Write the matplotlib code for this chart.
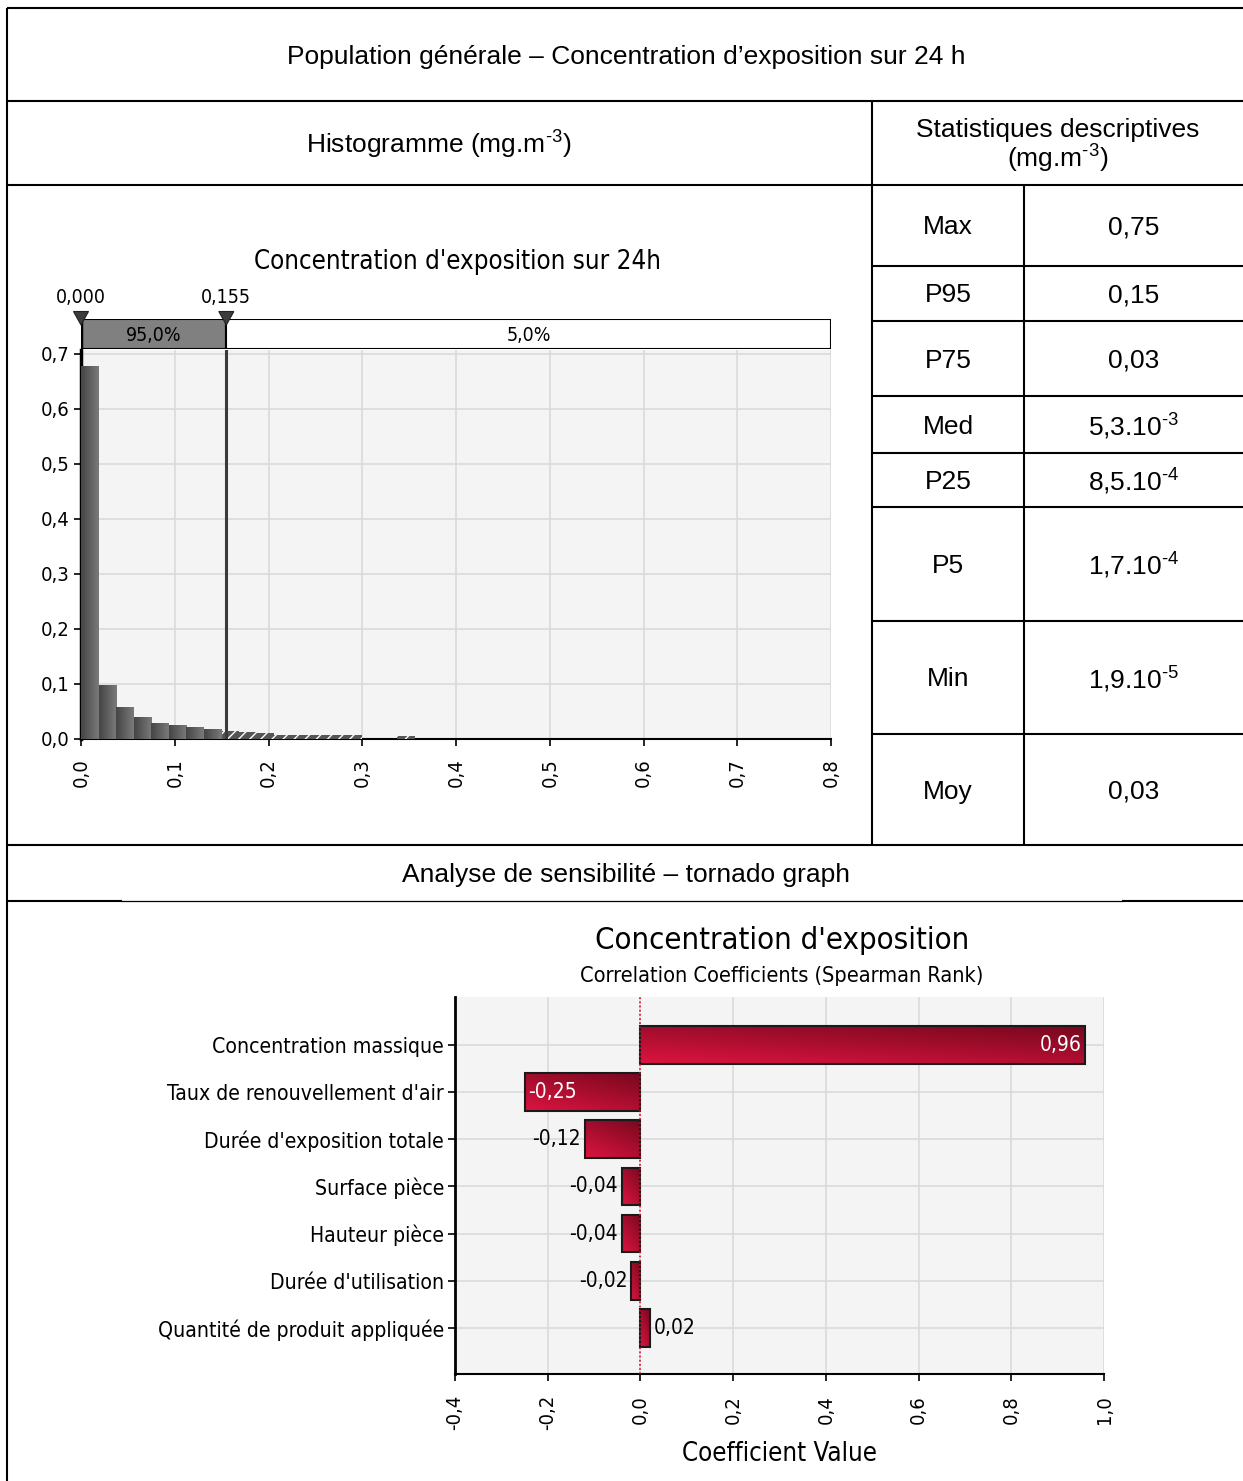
import numpy as np
import matplotlib
matplotlib.use("Agg")
import matplotlib.pyplot as plt
from matplotlib import font_manager
from matplotlib.patches import Rectangle, Polygon
from matplotlib.ticker import FuncFormatter, MultipleLocator
from matplotlib.colors import LinearSegmentedColormap

# ---- data ----
hist_edges_step = 0.01875
hist_probs = [0.678, 0.098, 0.058, 0.040, 0.029, 0.025, 0.021, 0.018,
              0.0145, 0.013, 0.010, 0.007, 0.007, 0.007, 0.007, 0.007,
              0.0, 0.0, 0.006]
p_low, p_high = 0.000, 0.155
pct_in, pct_out = "95,0%", "5,0%"

stat_names = ["Max", "P95", "P75", "Med", "P25", "P5", "Min", "Moy"]
stat_values = ["0,75", "0,15", "0,03", r"5,3.10$^{\text{-3}}$", r"8,5.10$^{\text{-4}}$",
               r"1,7.10$^{\text{-4}}$", r"1,9.10$^{\text{-5}}$", "0,03"]

inputs = ["Concentration massique", "Taux de renouvellement d'air",
          "Durée d'exposition totale", "Surface pièce", "Hauteur pièce",
          "Durée d'utilisation", "Quantité de produit appliquée"]
coefs = [0.96, -0.25, -0.12, -0.04, -0.04, -0.02, 0.02]

# ---- fonts ----
plt.rcParams["mathtext.fontset"] = "custom"
plt.rcParams["mathtext.rm"] = "Liberation Sans"
plt.rcParams["mathtext.it"] = "Liberation Sans:italic"
plt.rcParams["mathtext.bf"] = "Liberation Sans:bold"

ttf = font_manager.fontManager.ttflist
names = {f.name for f in ttf}
has_dv_cond = any(f.name == "DejaVu Sans" and "condensed" in str(f.stretch) for f in ttf)
if has_dv_cond:
    CH = dict(family="DejaVu Sans", stretch="condensed")
elif "Liberation Sans Narrow" in names:
    CH = dict(family="Liberation Sans Narrow")
else:
    CH = dict(family="DejaVu Sans")
TAB = dict(family="Liberation Sans")

W, H = 1243, 1481
fig = plt.figure(figsize=(W / 100, H / 100), dpi=100)


def box(x0, y0, x1, y1):
    return [x0 / W, 1 - y1 / H, (x1 - x0) / W, (y1 - y0) / H]


def comma(v, _=None, nd=1):
    return f"{v:.{nd}f}".replace(".", ",")


def grad_rect(ax, x, y, w, h, c1, c2, diag=False, z=3):
    cmap = LinearSegmentedColormap.from_list("g", [c1, c2])
    n = 64
    if diag:
        gx, gy = np.meshgrid(np.linspace(0, 1, n), np.linspace(0, 1, n))
        img = 0.4 * gx + 0.6 * gy
    else:
        img = np.tile(np.linspace(0, 1, n), (2, 1))
    rect = Rectangle((x, y), w, h, facecolor="none", edgecolor="none")
    ax.add_patch(rect)
    im = ax.imshow(img, cmap=cmap, extent=(x, x + w, y, y + h) if not diag else (x, x + w, y + h, y),
                   aspect="auto", origin="lower", zorder=z, interpolation="bilinear")
    im.set_clip_path(rect)
    return rect


def style_ticks(a):
    for t in a.get_xticklabels() + a.get_yticklabels():
        t.set_fontfamily(CH["family"])
        if "stretch" in CH:
            t.set_fontstretch(CH["stretch"])


# ---- table frame ----
bg = fig.add_axes([0, 0, 1, 1], zorder=-5)
bg.set_xlim(0, W)
bg.set_ylim(H, 0)
bg.axis("off")
lw = 1.5
k = dict(color="black", lw=lw, solid_capstyle="butt")
bg.plot([7, W], [8, 8], **k)
bg.plot([7, 7], [8, H], **k)
for yy in [101, 185, 845]:
    bg.plot([7, W], [yy, yy], **k)
bg.plot([7, 122], [901, 901], **k)
bg.plot([122, 1122], [901, 901], color="black", lw=0.9)
bg.plot([1122, W], [901, 901], **k)
bg.plot([872, 872], [101, 845], **k)
bg.plot([1024, 1024], [185, 845], **k)
row_lines = [185, 266, 321, 396, 453, 507, 621, 734, 845]
for yy in row_lines[1:-1]:
    bg.plot([872, W], [yy, yy], **k)

fs = 19
bg.text(626, 57, "Population générale – Concentration d’exposition sur 24 h",
        ha="center", va="center", fontsize=fs, **TAB)
bg.text(439, 145, r"Histogramme (mg.m$^{\text{-3}}$)", ha="center", va="center", fontsize=fs, **TAB)
bg.text(1058, 130, "Statistiques descriptives", ha="center", va="center", fontsize=fs, **TAB)
bg.text(1058, 159, r"(mg.m$^{\text{-3}}$)", ha="center", va="center", fontsize=fs, **TAB)
bg.text(626, 875, "Analyse de sensibilité – tornado graph", ha="center", va="center",
        fontsize=fs, **TAB)
for i, (nm, val) in enumerate(zip(stat_names, stat_values)):
    yc = (row_lines[i] + row_lines[i + 1]) / 2 + 2
    bg.text(948, yc, nm, ha="center", va="center", fontsize=fs, **TAB)
    bg.text(1134, yc, val, ha="center", va="center", fontsize=fs, **TAB)

# ---- histogram ----
ax = fig.add_axes(box(81, 350, 831, 739))
ax.set_facecolor("#f4f4f4")
ax.set_xlim(0, 0.8)
ax.set_ylim(0, 0.707)
ax.xaxis.set_major_locator(MultipleLocator(0.1))
ax.yaxis.set_major_locator(MultipleLocator(0.1))
ax.grid(True, color="#dadada", lw=1.2)
ax.set_axisbelow(True)
for i, p in enumerate(hist_probs):
    if p <= 0:
        continue
    x0 = i * hist_edges_step
    if x0 + hist_edges_step / 2 < p_high:
        grad_rect(ax, x0, 0, hist_edges_step, p, "#454545", "#7a7a7a")
    else:
        ax.add_patch(Rectangle((x0, 0), hist_edges_step, p, facecolor="#555555",
                               edgecolor="white", hatch="///", lw=0, zorder=3))
ax.axvline(p_high, color="#3a3a3a", lw=2.2, zorder=5)
for s in ["top", "right"]:
    ax.spines[s].set_visible(False)
ax.spines["left"].set_linewidth(2.5)
ax.spines["bottom"].set_linewidth(1.5)
ax.tick_params(length=5, width=1.2, labelsize=14.5, pad=3)
ax.tick_params(axis="x", pad=9)
ax.xaxis.set_major_formatter(FuncFormatter(comma))
ax.yaxis.set_major_formatter(FuncFormatter(comma))
for t in ax.get_xticklabels():
    t.set_rotation(90)
style_ticks(ax)

# delimiter band above the histogram
band = fig.add_axes(box(81, 319, 831, 349))
band.set_xlim(0, 0.8)
band.set_ylim(0, 1)
band.axis("off")
band.add_patch(Rectangle((p_low, 0), p_high - p_low, 1, facecolor="#808080",
                         edgecolor="black", lw=1.5))
band.add_patch(Rectangle((p_high, 0), 0.8 - p_high, 1, facecolor="white",
                         edgecolor="black", lw=1.5))
band.plot([p_low, p_low], [0, 1], color="black", lw=2.5)
band.text((p_low + p_high) / 2, 0.45, pct_in, ha="center", va="center", fontsize=14, **CH)
band.text((p_high + 0.8) / 2, 0.45, pct_out, ha="center", va="center", fontsize=14, **CH)
for xv in [p_low, p_high]:
    band.add_patch(Polygon([[xv - 0.008, 1.25], [xv + 0.008, 1.25], [xv, 0.8]],
                           closed=True, facecolor="#3c3c3c", edgecolor="#222222",
                           lw=0.8, clip_on=False, zorder=6))
    band.text(xv, 1.4, comma(xv, nd=3), ha="center", va="bottom", fontsize=14,
              clip_on=False, **CH)

fig.text(457 / W, 1 - 262 / H, "Concentration d'exposition sur 24h", ha="center",
         va="center", fontsize=18.5, **CH)

# ---- tornado ----
tx = fig.add_axes(box(455, 997, 1104, 1374))
tx.set_facecolor("#f4f4f4")
tx.set_xlim(-0.4, 1.0)
tx.set_ylim(len(inputs) - 1 + 0.98, -1.02)
tx.xaxis.set_major_locator(MultipleLocator(0.2))
tx.set_yticks(range(len(inputs)))
tx.set_yticklabels(inputs)
tx.grid(True, color="#dadada", lw=1.2)
tx.set_axisbelow(True)
bh = 0.8
vfs = 15
for i, c in enumerate(coefs):
    x0 = min(0, c)
    grad_rect(tx, x0, i - bh / 2, abs(c), bh, "#dc1440", "#78081e", diag=True)
    tx.add_patch(Rectangle((x0, i - bh / 2), abs(c), bh, facecolor="none",
                           edgecolor="#1a1a1a", lw=1.5, zorder=4))
    lab = comma(c, nd=2)
    if abs(c) > 0.2:
        if c > 0:
            tx.text(c - 0.008, i, lab, ha="right", va="center", color="white",
                    fontsize=vfs, zorder=6, **CH)
        else:
            tx.text(c + 0.008, i, lab, ha="left", va="center", color="white",
                    fontsize=vfs, zorder=6, **CH)
    else:
        if c > 0:
            tx.text(c + 0.008, i, lab, ha="left", va="center", fontsize=vfs, zorder=6, **CH)
        else:
            tx.text(c - 0.008, i, lab, ha="right", va="center", fontsize=vfs, zorder=6, **CH)
tx.axvline(0, color="#cc1030", lw=1.2, ls=(0, (1, 1.5)), zorder=5)
for s in ["top", "right"]:
    tx.spines[s].set_visible(False)
tx.spines["left"].set_linewidth(2)
tx.spines["bottom"].set_linewidth(1.5)
tx.tick_params(length=5, width=1.2, labelsize=14.5, pad=3)
tx.tick_params(axis="x", pad=10)
tx.tick_params(axis="y", labelsize=15.2)
tx.xaxis.set_major_formatter(FuncFormatter(comma))
for t in tx.get_xticklabels():
    t.set_rotation(90)
style_ticks(tx)
tx.set_xlabel("Coefficient Value", fontsize=18.5, labelpad=8, **CH)

fig.text(782 / W, 1 - 941 / H, "Concentration d'exposition", ha="center", va="center",
         fontsize=22.3, **CH)
fig.text(782 / W, 1 - 976 / H, "Correlation Coefficients (Spearman Rank)", ha="center",
         va="center", fontsize=15.6, **CH)

fig.savefig("out.png", dpi=100)
